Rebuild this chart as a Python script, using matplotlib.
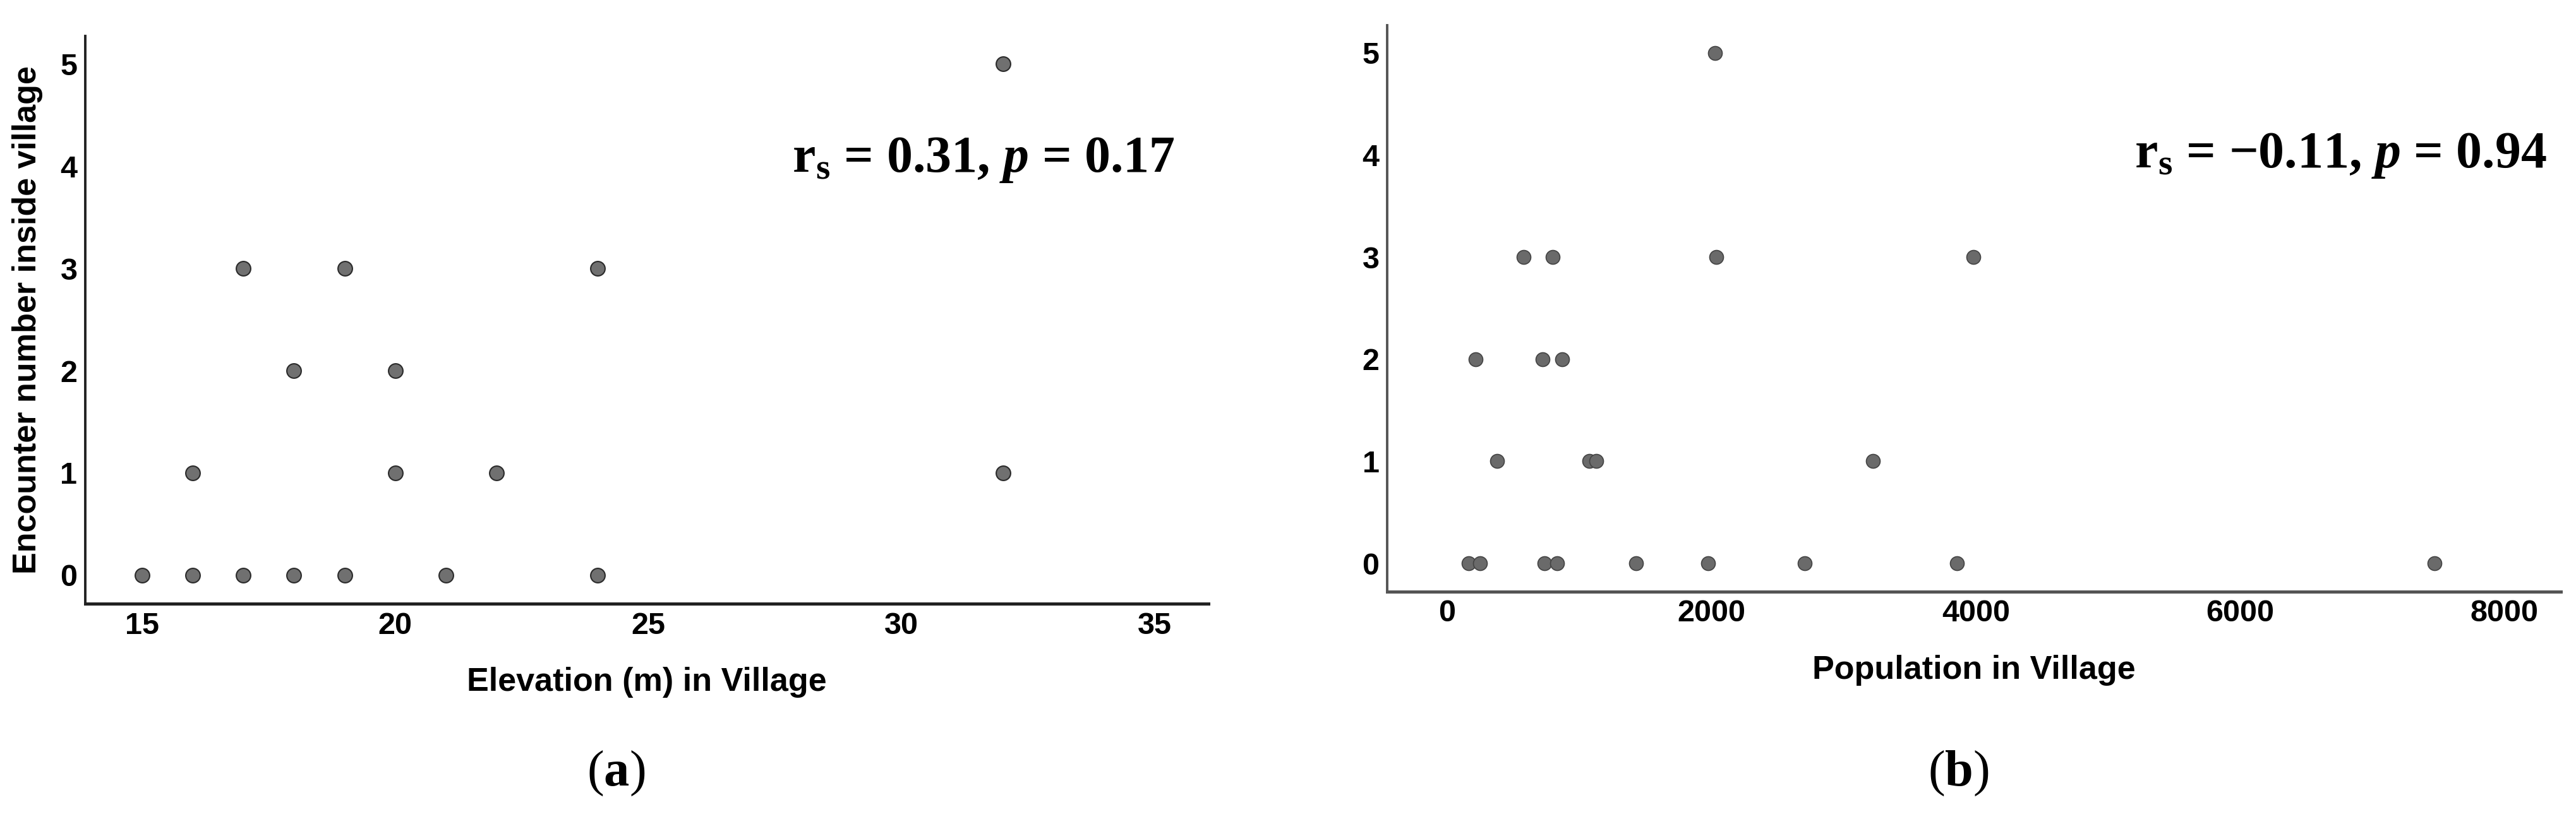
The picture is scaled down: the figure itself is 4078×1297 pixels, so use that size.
import matplotlib
matplotlib.use("Agg")
import matplotlib.pyplot as plt

# panel (a): elevation vs encounters
elev = [15, 16, 17, 18, 19, 21, 24,
        16, 20, 22, 32,
        18, 20,
        17, 19, 24,
        32]
enc_a = [0, 0, 0, 0, 0, 0, 0,
         1, 1, 1, 1,
         2, 2,
         3, 3, 3,
         5]

# panel (b): population vs encounters
pop = [162, 249, 736, 832, 1429, 1974, 2705, 3857, 7472,
       378, 1075, 1128, 3222,
       215, 722, 870,
       578, 798, 2036, 3982,
       2025]
enc_b = [0, 0, 0, 0, 0, 0, 0, 0, 0,
         1, 1, 1, 1,
         2, 2, 2,
         3, 3, 3, 3,
         5]

xticks_a = [15, 20, 25, 30, 35]
xticks_b = [0, 2000, 4000, 6000, 8000]
yticks = [0, 1, 2, 3, 4, 5]

plt.rcParams['font.family'] = ['Liberation Sans', 'DejaVu Sans']
plt.rcParams['mathtext.fontset'] = 'custom'
plt.rcParams['mathtext.rm'] = 'Liberation Serif:bold'
plt.rcParams['mathtext.it'] = 'Liberation Serif:italic:bold'
plt.rcParams['mathtext.bf'] = 'Liberation Serif:bold'

W, H = 4078, 1297
fig = plt.figure(figsize=(W / 100, H / 100), dpi=100)


def px_axes(x0, x1, ytop, ybot):
    return fig.add_axes([x0 / W, 1 - ybot / H, (x1 - x0) / W, (ybot - ytop) / H])


def style(ax, spine_col):
    for s in ['top', 'right']:
        ax.spines[s].set_visible(False)
    ax.spines['bottom'].set_linewidth(3.6)
    ax.spines['left'].set_linewidth(2.8)
    ax.spines['bottom'].set_color(spine_col)
    ax.spines['left'].set_color(spine_col)
    ax.tick_params(length=0, labelsize=35, pad=9)
    for lab in ax.get_xticklabels() + ax.get_yticklabels():
        lab.set_fontweight('bold')


ax1 = px_axes(135, 1913, 57, 956)
ax1.scatter(elev, enc_a, s=270, c='#707070', edgecolors='#2a2a2a', linewidths=1.5, zorder=3)
ax1.set_xlim(13.877, 36.06)
ax1.set_ylim(-0.278, 5.272)
ax1.set_xticks(xticks_a)
ax1.set_yticks(yticks)
style(ax1, '#222222')
ax1.set_xlabel('Elevation (m) in Village', fontsize=37.5, fontweight='bold')
ax1.set_ylabel('Encounter number inside village', fontsize=37.5, fontweight='bold')
ax1.xaxis.set_label_coords(0.5, -0.111)
ax1.yaxis.set_label_coords(-0.0517, 0.5)
ax1.yaxis.label.set_va('center')

ax2 = px_axes(2196, 4054, 40, 937)
ax2.scatter(pop, enc_b, s=250, c='#6a6a6a', edgecolors='#444444', linewidths=1.2, zorder=3)
ax2.set_xlim(-454, 8427)
ax2.set_ylim(-0.278, 5.272)
ax2.set_xticks(xticks_b)
ax2.set_yticks(yticks)
style(ax2, '#555555')
ax2.set_xlabel('Population in Village', fontsize=37.5, fontweight='bold')
ax2.xaxis.set_label_coords(0.5, -0.111)

serif = ['Liberation Serif', 'DejaVu Serif']
fig.text(1860 / W, 1 - 272 / H, r'r$_\mathrm{s}$ = 0.31, $p$ = 0.17', ha='right', va='baseline',
         fontsize=59, fontweight='bold', family=serif)
fig.text(4032 / W, 1 - 265 / H, 'r$_\\mathrm{s}$ = \u22120.11, $p$ = 0.94', ha='right', va='baseline',
         fontsize=59, fontweight='bold', family=serif)

fig.text(975 / W, 1 - 1225 / H, r'($\mathbf{a}$)', ha='center', va='center', fontsize=58, family=serif)
fig.text(3100 / W, 1 - 1225 / H, r'($\mathbf{b}$)', ha='center', va='center', fontsize=58, family=serif)

fig.savefig('out.png', dpi=100, facecolor='white')
